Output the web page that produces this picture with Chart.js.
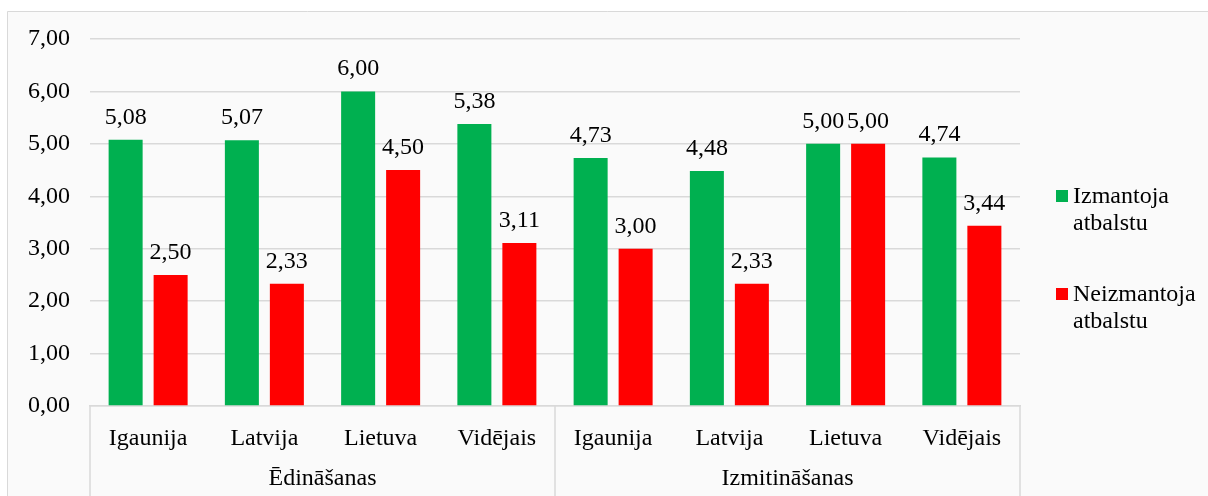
<!DOCTYPE html>
<html>
<head>
<meta charset="utf-8">
<script src="https://cdn.jsdelivr.net/npm/chart.js@4.4.1/dist/chart.umd.min.js"></script>
<style>
  html, body { margin: 0; padding: 0; background: #fff; }
  #wrap { width: 1208px; height: 496px; position: relative; }
</style>
</head>
<body>
<div id="wrap"><canvas id="grafica"></canvas></div>
<script>
// categories and groups
const categories = ['Igaunija', 'Latvija', 'Lietuva', 'Vidējais', 'Igaunija', 'Latvija', 'Lietuva', 'Vidējais'];
const groups = ['Ēdināšanas', 'Izmitināšanas'];
const groupSize = 4;

// series values
const izmantoja = [5.08, 5.07, 6.00, 5.38, 4.73, 4.48, 5.00, 4.74];
const neizmantoja = [2.50, 2.33, 4.50, 3.11, 3.00, 2.33, 5.00, 3.44];

// y tick values
const yTicks = [0, 1, 2, 3, 4, 5, 6, 7];

const FONT = "'Liberation Serif', 'Times New Roman', serif";
const GRID = '#D9D9D9';
const fmt = v => v.toFixed(2).replace('.', ',');

// background + outer border
const bgPlugin = {
    id: 'bg',
    beforeDraw(chart) {
        const ctx = chart.ctx;
        ctx.save();
        ctx.fillStyle = '#FAFAFA';
        ctx.fillRect(7, 11, chart.width - 7, chart.height - 11);
        ctx.strokeStyle = GRID;
        ctx.lineWidth = 1;
        ctx.beginPath();
        ctx.moveTo(7.5, chart.height);
        ctx.lineTo(7.5, 11.5);
        ctx.lineTo(chart.width, 11.5);
        ctx.stroke();
        ctx.restore();
    }
};

// value labels above bars
const valuePlugin = {
    id: 'values',
    afterDatasetsDraw(chart) {
        const ctx = chart.ctx;
        ctx.save();
        ctx.font = '24px ' + FONT;
        ctx.fillStyle = '#000';
        ctx.textAlign = 'center';
        ctx.textBaseline = 'alphabetic';
        chart.data.datasets.forEach((ds, i) => {
            chart.getDatasetMeta(i).data.forEach((bar, j) => {
                ctx.fillText(fmt(ds.data[j]), bar.x, bar.y - 16);
            });
        });
        ctx.restore();
    }
};

// group labels and separators under the x axis
const groupPlugin = {
    id: 'groups',
    afterDraw(chart) {
        const ctx = chart.ctx;
        const x = chart.scales.x;
        const area = chart.chartArea;
        const step = x.getPixelForValue(1) - x.getPixelForValue(0);
        ctx.save();
        ctx.strokeStyle = GRID;
        ctx.lineWidth = 1.5;
        for (let g = 0; g <= groups.length; g++) {
            const px = Math.round(x.getPixelForValue(g * groupSize) - step / 2);
            ctx.beginPath();
            ctx.moveTo(px, area.bottom);
            ctx.lineTo(px, chart.height);
            ctx.stroke();
        }
        ctx.font = '24px ' + FONT;
        ctx.fillStyle = '#000';
        ctx.textAlign = 'center';
        ctx.textBaseline = 'alphabetic';
        groups.forEach((name, g) => {
            const a = x.getPixelForValue(g * groupSize);
            const b = x.getPixelForValue(g * groupSize + groupSize - 1);
            ctx.fillText(name, (a + b) / 2, 485);
        });
        ctx.restore();
    }
};

// legend on the right, two-line labels
const legendPlugin = {
    id: 'sideLegend',
    afterDraw(chart) {
        const ctx = chart.ctx;
        ctx.save();
        ctx.font = '24px ' + FONT;
        ctx.textAlign = 'left';
        ctx.textBaseline = 'alphabetic';
        chart.data.datasets.forEach((ds, i) => {
            const top = 190 + i * 98;
            ctx.fillStyle = ds.backgroundColor;
            ctx.fillRect(1056, top, 12, 12);
            ctx.fillStyle = '#000';
            const words = ds.label.split(' ');
            ctx.fillText(words[0], 1073, top + 13);
            ctx.fillText(words.slice(1).join(' '), 1073, top + 40);
        });
        ctx.restore();
    }
};

new Chart(document.getElementById('grafica'), {
    type: 'bar',
    data: {
        labels: categories,
        datasets: [
            {
                label: 'Izmantoja atbalstu',
                data: izmantoja,
                backgroundColor: '#00B050',
                categoryPercentage: 0.774,
                barPercentage: 0.756
            },
            {
                label: 'Neizmantoja atbalstu',
                data: neizmantoja,
                backgroundColor: '#FF0000',
                categoryPercentage: 0.774,
                barPercentage: 0.756
            }
        ]
    },
    options: {
        responsive: true,
        maintainAspectRatio: false,
        animation: false,
        layout: {
            padding: { top: 39, right: 188, bottom: 0, left: 0 }
        },
        plugins: {
            legend: { display: false },
            tooltip: { enabled: false }
        },
        scales: {
            y: {
                min: 0,
                max: 7,
                afterFit: s => { s.width = 90; },
                afterBuildTicks: s => { s.ticks = yTicks.map(v => ({ value: v })); },
                border: { display: false },
                grid: { color: GRID, lineWidth: 1.5, drawTicks: false },
                ticks: {
                    padding: 20,
                    color: '#000',
                    font: { family: FONT, size: 24 },
                    callback: v => fmt(v)
                }
            },
            x: {
                afterFit: s => { s.height = 90; },
                border: { display: true, color: GRID, width: 1.5 },
                grid: { display: false, drawTicks: false },
                ticks: {
                    padding: 18,
                    color: '#000',
                    maxRotation: 0,
                    autoSkip: false,
                    font: { family: FONT, size: 24 }
                }
            }
        }
    },
    plugins: [bgPlugin, valuePlugin, groupPlugin, legendPlugin]
});
</script>
</body>
</html>
